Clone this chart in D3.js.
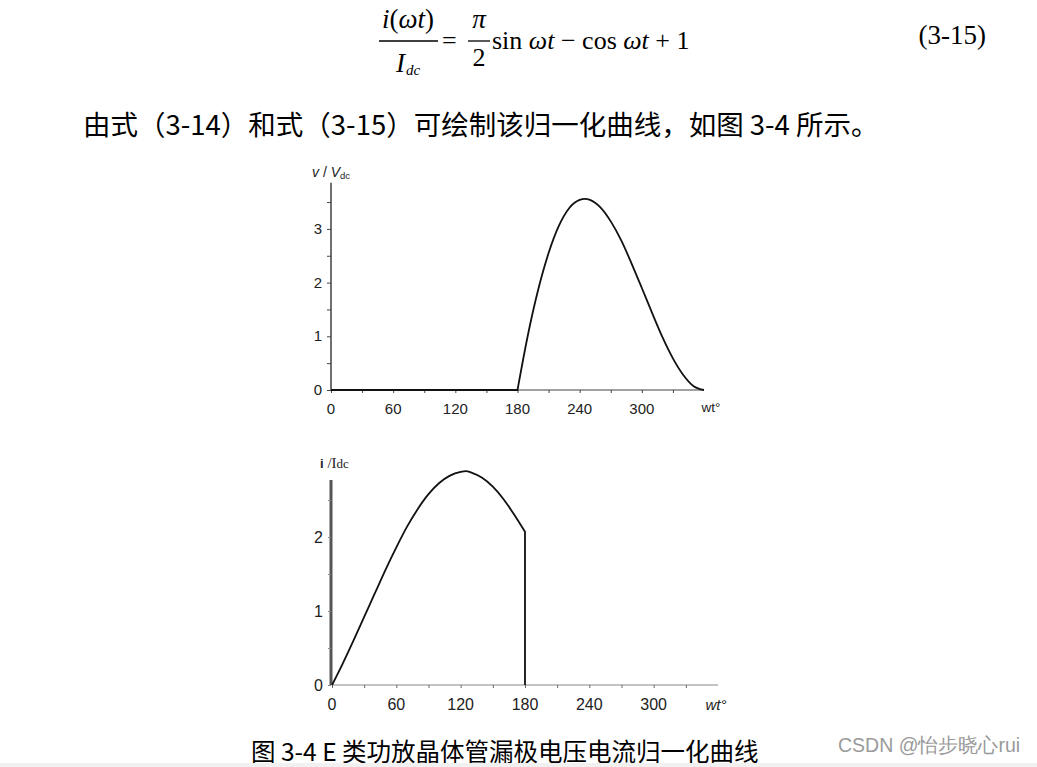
<!DOCTYPE html>
<html>
<head>
<meta charset="utf-8">
<script src="https://cdn.jsdelivr.net/npm/d3@7"></script>
<style>
  html,body{margin:0;padding:0;background:#fff;}
  svg{display:block;}
</style>
</head>
<body>
<svg id="chart" width="1037" height="767"></svg>
<script>
// ---------- data ----------
const vAngles = [0, 180, 190, 200, 210, 220, 230, 240, 245, 250, 260, 270, 280, 290, 300, 310, 320, 330, 340, 350, 360];
const vValues = [0, 0, 1.02, 1.87, 2.55, 3.06, 3.39, 3.54, 3.56, 3.54, 3.40, 3.14, 2.79, 2.36, 1.90, 1.43, 0.98, 0.59, 0.28, 0.07, 0];

const iAngles = [0, 10, 20, 30, 40, 50, 60, 70, 80, 90, 100, 110, 120, 125, 130, 140, 150, 160, 170, 180];
const iValues = [0, 0.29, 0.60, 0.92, 1.24, 1.56, 1.86, 2.14, 2.38, 2.58, 2.73, 2.83, 2.88, 2.89, 2.87, 2.80, 2.68, 2.51, 2.30, 2.07];

const xTickValues = [0, 30, 60, 90, 120, 150, 180, 210, 240, 270, 300, 330];
const xTickLabels = [0, 60, 120, 180, 240, 300];
const vTickValues = [0, 0.5, 1, 1.5, 2, 2.5, 3, 3.5];
const vTickLabels = [0, 1, 2, 3];
const iTickValues = [0, 0.5, 1, 1.5, 2, 2.5];
const iTickLabels = [0, 1, 2];

const svg = d3.select("#chart");
const serif = "'Liberation Serif','DejaVu Serif',serif";
const sans = "'Liberation Sans',Arial,sans-serif";
const cjk = "'Noto Sans CJK SC','Noto Sans CJK JP',sans-serif";

// ---------- formula ----------
const f = svg.append("g").attr("font-family", serif).attr("fill", "#000");
f.append("text").attr("x", 408).attr("y", 28).attr("text-anchor", "middle").attr("font-size", 27)
  .html('<tspan font-style="italic">i</tspan>(<tspan font-style="italic">ωt</tspan>)');
f.append("line").attr("x1", 379).attr("x2", 438).attr("y1", 41).attr("y2", 41).attr("stroke", "#000").attr("stroke-width", 1.3);
f.append("text").attr("x", 396).attr("y", 72).attr("font-size", 27).attr("font-style", "italic").text("I");
f.append("text").attr("x", 406).attr("y", 75).attr("font-size", 15).attr("font-style", "italic").text("dc");
f.append("text").attr("x", 442).attr("y", 49).attr("font-size", 26).text("=");
f.append("text").attr("x", 479).attr("y", 28).attr("text-anchor", "middle").attr("font-size", 27).attr("font-style", "italic").text("π");
f.append("line").attr("x1", 468).attr("x2", 490).attr("y1", 41).attr("y2", 41).attr("stroke", "#000").attr("stroke-width", 1.3);
f.append("text").attr("x", 479).attr("y", 66).attr("text-anchor", "middle").attr("font-size", 26).text("2");
f.append("text").attr("x", 492).attr("y", 49).attr("font-size", 26)
  .html('sin <tspan font-style="italic">ωt</tspan> − cos <tspan font-style="italic">ωt</tspan> + 1');
f.append("text").attr("x", 986).attr("y", 44).attr("text-anchor", "end").attr("font-size", 27).text("(3-15)");

// ---------- paragraph ----------
svg.append("text").attr("x", 83).attr("y", 135).attr("font-family", cjk).attr("font-size", 27.5).attr("fill", "#000")
  .text("由式（3-14）和式（3-15）可绘制该归一化曲线，如图 3-4 所示。");

// ---------- top chart (voltage) ----------
const xV = d3.scaleLinear().domain([0, 360]).range([331, 704]);
const yV = d3.scaleLinear().domain([0, 1]).range([390, 336.3]);
const gV = svg.append("g");

const xAxisV = d3.axisBottom(xV).tickValues(xTickValues).tickSize(3).tickFormat(() => "");
const gxV = gV.append("g").attr("transform", `translate(0,${yV(0)})`).call(xAxisV);
gxV.select(".domain").attr("d", `M${xV(0)},0H${xV(360)}`).attr("stroke", "#444").attr("stroke-width", 1.2);
gxV.selectAll(".tick line").attr("stroke", "#444");
gV.append("g").selectAll("text").data(xTickLabels).join("text")
  .attr("x", d => xV(d)).attr("y", 414).attr("text-anchor", "middle")
  .attr("font-family", sans).attr("font-size", 15).attr("fill", "#222").text(d => d);
gV.append("text").attr("x", 711).attr("y", 412).attr("text-anchor", "middle")
  .attr("font-family", sans).attr("font-size", 13.5).attr("fill", "#222").text("wt°");

const yAxisV = d3.axisLeft(yV).tickValues(vTickValues).tickSize(4).tickFormat(() => "");
const gyV = gV.append("g").attr("transform", `translate(${xV(0)},0)`).call(yAxisV);
gyV.select(".domain").attr("d", `M0,${yV(0)}V${yV(3.86)}`).attr("stroke", "#222").attr("stroke-width", 1.3);
gyV.selectAll(".tick line").attr("stroke", "#444");
gV.append("g").selectAll("text").data(vTickLabels).join("text")
  .attr("x", 322).attr("y", d => yV(d) + 5).attr("text-anchor", "end")
  .attr("font-family", sans).attr("font-size", 15).attr("fill", "#222").text(d => d);
gV.append("text").attr("x", 312).attr("y", 177).attr("font-family", sans).attr("font-size", 14).attr("fill", "#222")
  .html('<tspan font-style="italic">v</tspan> / <tspan font-style="italic">V</tspan><tspan font-size="9.5" dy="2">dc</tspan>');

// flat part (0..180) and the pulse (180..360) drawn as separate pieces
const vPts = vAngles.map((a, i) => [a, vValues[i]]);
const flatPts = vPts.filter(p => p[0] <= 180);
const pulsePts = vPts.filter(p => p[0] >= 180);
const lineFlat = d3.line().x(p => xV(p[0])).y(p => yV(p[1]));
const lineV = d3.line().x(p => xV(p[0])).y(p => yV(p[1])).curve(d3.curveMonotoneX);
gV.append("path").attr("d", lineFlat(flatPts) + lineV(pulsePts).replace(/^M/, "L"))
  .attr("fill", "none").attr("stroke", "#111").attr("stroke-width", 1.8);

// ---------- bottom chart (current) ----------
const xI = d3.scaleLinear().domain([0, 360]).range([332, 718]);
const yI = d3.scaleLinear().domain([0, 1]).range([685, 611]);
const gI = svg.append("g");

const xAxisI = d3.axisBottom(xI).tickValues(xTickValues).tickSize(3).tickFormat(() => "");
const gxI = gI.append("g").attr("transform", `translate(0,${yI(0)})`).call(xAxisI);
gxI.select(".domain").attr("d", `M${xI(0)},0H${xI(360)}`).attr("stroke", "#888").attr("stroke-width", 1.1);
gxI.selectAll(".tick line").attr("stroke", "#666");
gI.append("g").selectAll("text").data(xTickLabels).join("text")
  .attr("x", d => xI(d)).attr("y", 710).attr("text-anchor", "middle")
  .attr("font-family", sans).attr("font-size", 16).attr("fill", "#222").text(d => d);
gI.append("text").attr("x", 716).attr("y", 710).attr("text-anchor", "middle")
  .attr("font-family", sans).attr("font-size", 15).attr("font-style", "italic").attr("fill", "#222").text("wt°");

const yAxisI = d3.axisLeft(yI).tickValues(iTickValues).tickSize(3).tickFormat(() => "");
const gyI = gI.append("g").attr("transform", `translate(${xI(0) - 1},0)`).call(yAxisI);
gyI.select(".domain").attr("d", `M0,${yI(0)}V${yI(2.77)}`).attr("stroke", "#555").attr("stroke-width", 3);
gyI.selectAll(".tick line").attr("stroke", "#888");
gI.append("g").selectAll("text").data(iTickLabels).join("text")
  .attr("x", 323).attr("y", d => yI(d) + 6).attr("text-anchor", "end")
  .attr("font-family", sans).attr("font-size", 16).attr("fill", "#222").text(d => d);
gI.append("text").attr("x", 320).attr("y", 468).attr("fill", "#222")
  .html(`<tspan font-family="${sans}" font-weight="bold" font-size="13">i</tspan><tspan font-family="${serif}" font-size="15"> /I</tspan><tspan font-family="${serif}" font-size="13">dc</tspan>`);

const lineI = d3.line().x((d, i) => xI(iAngles[i])).y(d => yI(d)).curve(d3.curveMonotoneX);
const pathI = lineI(iValues) + `L${xI(180)},${yI(0)}`;
gI.append("path").attr("d", pathI).attr("fill", "none").attr("stroke", "#111").attr("stroke-width", 1.8);

// ---------- caption & watermark ----------
svg.append("text").attr("x", 251).attr("y", 761).attr("font-family", cjk).attr("font-size", 24.5).attr("fill", "#000")
  .text("图 3-4 E 类功放晶体管漏极电压电流归一化曲线");
svg.append("text").attr("x", 838).attr("y", 752).attr("font-family", sans).attr("font-size", 19.5).attr("fill", "#9a9a9a")
  .text("CSDN @怡步晓心rui");
svg.append("rect").attr("x", 0).attr("y", 763).attr("width", 1037).attr("height", 4).attr("fill", "#f1f1f1");
</script>
</body>
</html>
